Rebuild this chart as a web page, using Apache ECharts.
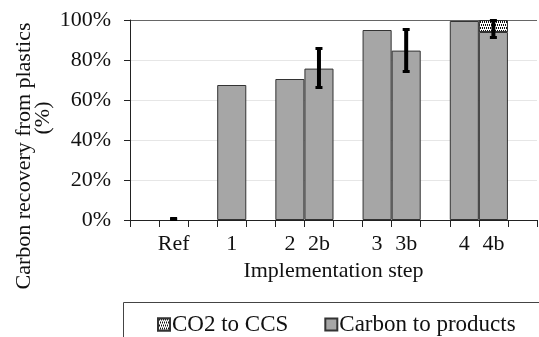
<!DOCTYPE html>
<html>
<head>
<meta charset="utf-8">
<script src="https://cdn.jsdelivr.net/npm/echarts@6/dist/echarts.min.js"></script>
<style>
  html, body { margin: 0; padding: 0; background: #fff; }
  #chart { width: 539px; height: 337px; }
</style>
</head>
<body>
<div id="chart"></div>
<script>
// implementation steps (blank slots keep the gaps between groups)
let steps = ['', 'Ref', '', '1', '', '2', '2b', '', '3', '3b', '', '4', '4b', ''];
// carbon recovery (%)
let carbonToProducts = [null, null, null, 67.5, null, 70.5, 75.7, null, 95, 84.7, null, 99.5, 94, null];
let co2ToCcs = [null, null, null, null, null, null, null, null, null, null, null, null, 6, null];
// error bar range (%)
let errLow = [null, 0, null, null, null, null, 66, null, null, 74, null, null, 91, null];
let errHigh = [null, 1, null, null, null, null, 86, null, null, 95.5, null, null, 100, null];
let yTicks = [0, 20, 40, 60, 80, 100];

var fontFam = "'Liberation Serif', 'Times New Roman', serif";

var errData = [];
steps.forEach(function (s, i) {
  if (errLow[i] != null) errData.push([i, errLow[i], errHigh[i]]);
});

let option = {
  animation: false,
  textStyle: { fontFamily: fontFam, color: '#111' },
  grid: { left: 130, right: 2, top: 20, bottom: 117, outerBoundsMode: 'none', containLabel: false },
  graphic: [
    {
      type: 'rect',
      shape: { x: 123.5, y: 302.5, width: 430, height: 60 },
      style: { fill: 'none', stroke: '#444', lineWidth: 1 },
      z: -1
    },
    // y axis title, two lines
    {
      type: 'text',
      x: 24, y: 156,
      rotation: Math.PI / 2,
      style: { text: 'Carbon recovery from plastics', font: '22px ' + fontFam, fill: '#111', align: 'center', verticalAlign: 'middle' }
    },
    {
      type: 'text',
      x: 43, y: 118,
      rotation: Math.PI / 2,
      style: { text: '(%)', font: '22px ' + fontFam, fill: '#111', align: 'center', verticalAlign: 'middle' }
    }
  ],
  legend: {
    data: ['CO2 to CCS', 'Carbon to products'],
    left: 152,
    top: 308,
    icon: 'rect',
    itemWidth: 12,
    itemHeight: 12,
    itemGap: 36,
    textStyle: { fontFamily: fontFam, fontSize: 23, color: '#111', padding: [0, 0, 0, -3] }
  },
  xAxis: {
    type: 'category',
    data: steps,
    name: 'Implementation step',
    nameLocation: 'middle',
    nameGap: 39,
    nameTextStyle: { fontFamily: fontFam, fontSize: 22, color: '#111' },
    axisLine: { lineStyle: { color: '#222', width: 1 } },
    axisTick: { show: true, interval: 0, alignWithLabel: false, length: 7, lineStyle: { color: '#222' } },
    axisLabel: { interval: 0, margin: 13, fontFamily: fontFam, fontSize: 22, color: '#111' }
  },
  yAxis: {
    type: 'value',
    min: 0,
    max: 100,
    interval: 20,
    axisLine: { show: true, lineStyle: { color: '#222' } },
    axisTick: { show: true, length: 6, lineStyle: { color: '#222' } },
    axisLabel: {
      margin: 19,
      fontFamily: fontFam,
      fontSize: 22,
      color: '#111',
      formatter: function (v) { return yTicks.indexOf(v) >= 0 ? v + '%' : ''; }
    },
    splitLine: {
      show: true,
      lineStyle: { color: ['#ddd', '#e6e6e6', '#e6e6e6', '#e6e6e6', '#e6e6e6', '#666'], width: 1 }
    }
  },
  series: [
    {
      name: 'Carbon to products',
      type: 'bar',
      stack: 'total',
      data: carbonToProducts,
      barCategoryGap: '0%',
      itemStyle: { color: '#a6a6a6', borderColor: '#333', borderWidth: 1 }
    },
    {
      name: 'CO2 to CCS',
      type: 'bar',
      stack: 'total',
      data: co2ToCcs,
      barCategoryGap: '0%',
      itemStyle: {
        color: '#fff',
        borderColor: '#333',
        borderWidth: 1,
        decal: {
          symbol: 'rect',
          symbolSize: 1,
          color: '#111',
          backgroundColor: '#fff',
          dashArrayX: [[1, 1], [0, 1, 1, 0]],
          dashArrayY: [2, 1],
          rotation: 0
        }
      }
    },
    {
      name: 'error',
      type: 'custom',
      data: errData,
      z: 10,
      renderItem: function (params, api) {
        var x = api.value(0);
        var lo = api.coord([x, api.value(1)]);
        var hi = api.coord([x, api.value(2)]);
        var cx = lo[0];
        return {
          type: 'group',
          children: [
            { type: 'rect', shape: { x: cx - 2, y: hi[1], width: 4, height: lo[1] - hi[1] }, style: { fill: '#000' } },
            { type: 'rect', shape: { x: cx - 3.5, y: hi[1] - 1, width: 7, height: 3 }, style: { fill: '#000' } },
            { type: 'rect', shape: { x: cx - 3.5, y: lo[1] - 2, width: 7, height: 3 }, style: { fill: '#000' } }
          ]
        };
      }
    }
  ]
};

var chartDom = document.getElementById('chart');
var chart = echarts.init(chartDom);
chart.setOption(option);
</script>
</body>
</html>
